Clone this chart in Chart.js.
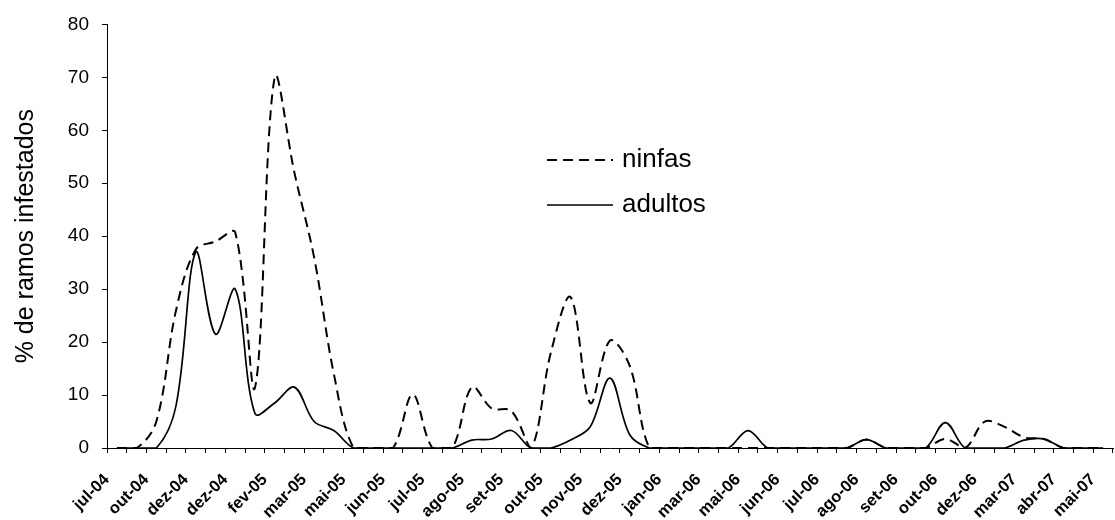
<!DOCTYPE html>
<html>
<head>
<meta charset="utf-8">
<script src="https://cdn.jsdelivr.net/npm/chart.js@4.4.1/dist/chart.umd.min.js"></script>
<style>
  body { margin: 0; background: #fff; }
</style>
</head>
<body>
<canvas id="myChart" width="1115" height="520"></canvas>
<script>
// sample dates, only every second one is labelled on the axis
const categories = [
  'jul-04', '', 'out-04', '', 'dez-04', '', 'dez-04', '', 'fev-05', '', 'mar-05', '', 'mai-05', '',
  'jun-05', '', 'jul-05', '', 'ago-05', '', 'set-05', '', 'out-05', '', 'nov-05', '', 'dez-05', '',
  'jan-06', '', 'mar-06', '', 'mai-06', '', 'jun-06', '', 'jul-06', '', 'ago-06', '', 'set-06', '',
  'out-06', '', 'dez-06', '', 'mar-07', '', 'abr-07', '', 'mai-07'
];

const ninfas = [
  0, 0, 5, 26, 37.5, 39, 40.7, 11.4, 70, 52, 36, 14, 0, 0,
  0, 10.1, 0, 0, 11.5, 7.5, 7, 0, 18, 28.5, 8.5, 20.3, 15.5, 0,
  0, 0, 0, 0, 0, 0, 0, 0, 0, 0, 1.6, 0, 0, 0,
  1.7, 0, 5, 4, 2, 1.7, 0, 0, 0
];

const adultos = [
  0, 0, 0, 8, 37, 21.5, 30, 6.5, 8.5, 11.5, 5, 3.3, 0, 0,
  0, 0, 0, 0, 1.5, 1.7, 3.3, 0, 0, 1.5, 4, 13.2, 2.5, 0,
  0, 0, 0, 0, 3.3, 0, 0, 0, 0, 0, 1.6, 0, 0, 0,
  4.8, 0, 0, 0, 1.5, 1.7, 0, 0, 0
];

const yTicks = [0, 10, 20, 30, 40, 50, 60, 70, 80];

const FONT = 'Liberation Sans, Arial, sans-serif';

// legend drawn inside the plot, like the original
const lineLegend = {
  id: 'lineLegend',
  afterDraw(chart, args, opts) {
    const c = chart.ctx;
    c.save();
    c.font = opts.fontSize + 'px ' + FONT;
    c.fillStyle = '#000';
    c.textBaseline = 'alphabetic';
    chart.data.datasets.forEach((ds, i) => {
      const y = opts.y + i * opts.rowGap;
      c.beginPath();
      c.setLineDash(ds.borderDash || []);
      c.lineWidth = ds.borderWidth;
      c.strokeStyle = ds.borderColor;
      c.moveTo(opts.x, y);
      c.lineTo(opts.x + opts.lineLen, y);
      c.stroke();
      c.setLineDash([]);
      c.fillText(ds.label, opts.x + opts.lineLen + opts.textGap, y + opts.textDy);
    });
    c.restore();
  }
};

const ctx = document.getElementById('myChart').getContext('2d');

const myChart = new Chart(ctx, {
  type: 'line',
  data: {
    labels: categories,
    datasets: [{
      label: 'ninfas',
      data: ninfas,
      borderColor: '#000',
      borderWidth: 2,
      borderDash: [10, 6],
      pointRadius: 0,
      tension: 0.35,
      fill: false
    }, {
      label: 'adultos',
      data: adultos,
      borderColor: '#000',
      borderWidth: 1.7,
      pointRadius: 0,
      tension: 0.35,
      fill: false
    }]
  },
  options: {
    responsive: false,
    animation: false,
    layout: { padding: { top: 19, right: 2, left: 0, bottom: 0 } },
    plugins: {
      legend: { display: false },
      tooltip: { enabled: false },
      lineLegend: { x: 547, y: 160, rowGap: 45, lineLen: 66, textGap: 9, textDy: 7, fontSize: 26 }
    },
    scales: {
      x: {
        type: 'category',
        offset: true,
        grid: { display: true, offset: true, drawOnChartArea: false, drawTicks: true, tickLength: 5, color: '#000' },
        border: { display: true, color: '#000', width: 1 },
        ticks: {
          autoSkip: false,
          maxRotation: 45,
          minRotation: 45,
          padding: 17,
          labelOffset: -10,
          color: '#000',
          font: { family: FONT, size: 16.5, weight: 'bold' }
        },
        afterFit(scale) {
          scale.height = 72;
          scale.paddingLeft = 0;
          scale.paddingRight = 0;
        }
      },
      y: {
        min: yTicks[0],
        max: yTicks[yTicks.length - 1],
        afterBuildTicks(scale) { scale.ticks = yTicks.map(v => ({ value: v })); },
        grid: { display: true, drawOnChartArea: false, drawTicks: true, tickLength: 5, color: '#000' },
        border: { display: true, color: '#000', width: 1 },
        ticks: {
          padding: 13,
          color: '#000',
          font: { family: FONT, size: 19 }
        },
        title: {
          display: true,
          text: '% de ramos infestados',
          color: '#000',
          padding: { top: 11, bottom: 0 },
          font: { family: FONT, size: 25 }
        },
        afterFit(scale) { scale.width = 107; }
      }
    }
  },
  plugins: [lineLegend]
});
</script>
</body>
</html>
